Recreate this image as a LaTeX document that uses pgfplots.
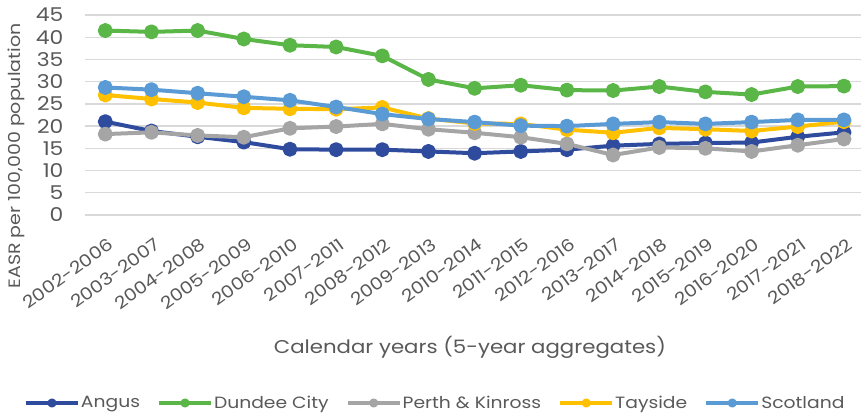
\documentclass[border=0pt]{standalone}
\usepackage{pgfplots}
\pgfplotsset{compat=1.18}
\usepackage{fontspec}
\setmainfont{Poppins}
\newfontfamily\widefont{Poppins}[FakeStretch=1.15]
\definecolor{cAngus}{HTML}{2F4B9E}
\definecolor{cDundee}{HTML}{5AB647}
\definecolor{cPerth}{HTML}{A5A5A5}
\definecolor{cTay}{HTML}{FFC000}
\definecolor{cScot}{HTML}{5B9BD5}
\definecolor{txt}{HTML}{595959}
\definecolor{grd}{HTML}{D9D9D9}
\begin{document}
\begin{tikzpicture}
\begin{axis}[
  name=ax,
  scale only axis,
  width=776pt, height=200pt,
  xmin=-0.44, xmax=16.37,
  ymin=0, ymax=45,
  ytick={0,5,...,45},
  xtick={0,...,16},
  xticklabels={2002-2006,2003-2007,2004-2008,2005-2009,2006-2010,2007-2011,2008-2012,2009-2013,2010-2014,2011-2015,2012-2016,2013-2017,2014-2018,2015-2019,2016-2020,2017-2021,2018-2022},
  axis line style={draw=none},
  major tick length=0pt,
  ymajorgrids,
  grid style={grd, line width=1.3pt},
  /pgf/number format/assume math mode=true,
  yticklabel style={font=\widefont\fontsize{19}{19}\selectfont, text=txt, anchor=east, xshift=-18pt},
  xticklabel style={font=\widefont\fontsize{17}{17}\selectfont, text=txt, xshift=2pt, yshift=-22pt, rotate=36, anchor=north east, inner sep=0pt},
  every axis y label/.style={at={(axis description cs:-0.088,0.295)}, anchor=center, rotate=90, font=\widefont\fontsize{16.5}{16.5}\selectfont, text=txt},
  ylabel={EASR per 100,000 population},
  every axis x label/.style={at={(axis description cs:0.496,-0.66)}, anchor=center, font=\widefont\fontsize{18.5}{18.5}\selectfont, text=txt},
  xlabel={Calendar years (5-year aggregates)},
  clip=false,
  legend columns=5,
  legend style={at={(axis description cs:0.450,-0.94)}, anchor=center, draw=none, fill=none,
    font=\widefont\fontsize{16.3}{16.3}\selectfont, text=txt,
    nodes={inner xsep=0pt},
    /tikz/every even column/.append style={column sep=17pt},
    /tikz/every odd column/.append style={column sep=1pt}},
  legend image code/.code={
    \draw[#1, mark=none, line width=4pt] (0pt,0pt) -- (52pt,0pt);
    \fill[#1] (26pt,0pt) circle (2.5pt);
  },
  every axis plot/.append style={line width=4pt, mark=*, mark size=5.5pt, line join=round},
]
\addplot[cAngus, mark options={fill=cAngus, draw=cAngus}] coordinates {
(0,21.0)(1,18.9)(2,17.6)(3,16.4)(4,14.8)(5,14.7)(6,14.7)(7,14.3)(8,13.9)(9,14.3)(10,14.7)(11,15.6)(12,16.0)(13,16.2)(14,16.3)(15,17.6)(16,18.6)};
\addlegendentry{Angus}
\addplot[cDundee, mark options={fill=cDundee, draw=cDundee}] coordinates {
(0,41.5)(1,41.2)(2,41.5)(3,39.6)(4,38.2)(5,37.8)(6,35.8)(7,30.5)(8,28.5)(9,29.2)(10,28.1)(11,28.0)(12,28.9)(13,27.7)(14,27.1)(15,28.9)(16,29.0)};
\addlegendentry{Dundee City}
\addplot[cPerth, mark options={fill=cPerth, draw=cPerth}] coordinates {
(0,18.2)(1,18.6)(2,17.9)(3,17.5)(4,19.5)(5,19.9)(6,20.5)(7,19.3)(8,18.5)(9,17.5)(10,16.0)(11,13.5)(12,15.2)(13,15.0)(14,14.3)(15,15.7)(16,17.1)};
\addlegendentry{Perth \& Kinross}
\addplot[cTay, mark options={fill=cTay, draw=cTay}] coordinates {
(0,27.0)(1,26.1)(2,25.3)(3,24.1)(4,23.9)(5,23.8)(6,24.2)(7,21.7)(8,20.6)(9,20.5)(10,19.2)(11,18.5)(12,19.6)(13,19.3)(14,18.9)(15,19.9)(16,21.0)};
\addlegendentry{Tayside}
\addplot[cScot, mark options={fill=cScot, draw=cScot}] coordinates {
(0,28.7)(1,28.2)(2,27.4)(3,26.6)(4,25.8)(5,24.3)(6,22.7)(7,21.6)(8,20.9)(9,20.1)(10,20.0)(11,20.5)(12,20.9)(13,20.5)(14,20.9)(15,21.4)(16,21.4)};
\addlegendentry{Scotland}
\end{axis}
\pgfresetboundingbox
\path (ax.south west) ++(-85pt,-204pt) rectangle ++(861pt,419pt);
\end{tikzpicture}
\end{document}
